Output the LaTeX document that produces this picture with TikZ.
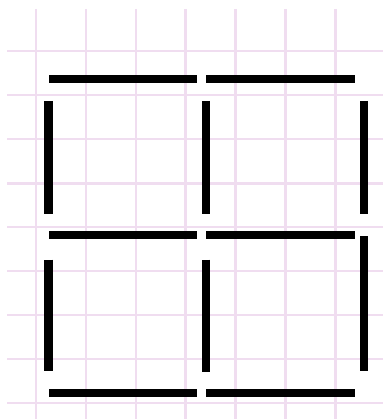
\documentclass[tikz,border=0pt]{standalone}
\usepackage{xcolor}
\usetikzlibrary{calc}
\definecolor{gridpink}{RGB}{240,221,240}

\begin{document}
\begin{tikzpicture}[x=1pt, y=-1pt,
    gridline/.style={draw=gridpink, line width=2.4pt},
    stick/.style={draw=black, line width=8.5pt, line cap=butt}
]
\useasboundingbox (0,0) rectangle (383,419);

% squared paper
\foreach \gx in {36,86,136,185.5,235.5,285.5,335.5}
    \draw[gridline] (\gx,9) -- (\gx,419);
\foreach \gy in {51,95,139,183.5,227,271,315,359,403}
    \draw[gridline] (7,\gy) -- (383,\gy);

% horizontal matches
\foreach \hy in {79,235,393} {
    \draw[stick] (49,\hy) -- (197,\hy);
    \draw[stick] (206,\hy) -- (354.5,\hy);
}

% vertical matches
\foreach \vx in {48.5,206,364} {
    \draw[stick] (\vx,101) -- (\vx,213.5);
}
\draw[stick] (48.5,259.5) -- (48.5,371);
\draw[stick] (206,259.5) -- (206,371.5);
\draw[stick] (364,236) -- (364,371);

\end{tikzpicture}
\end{document}
